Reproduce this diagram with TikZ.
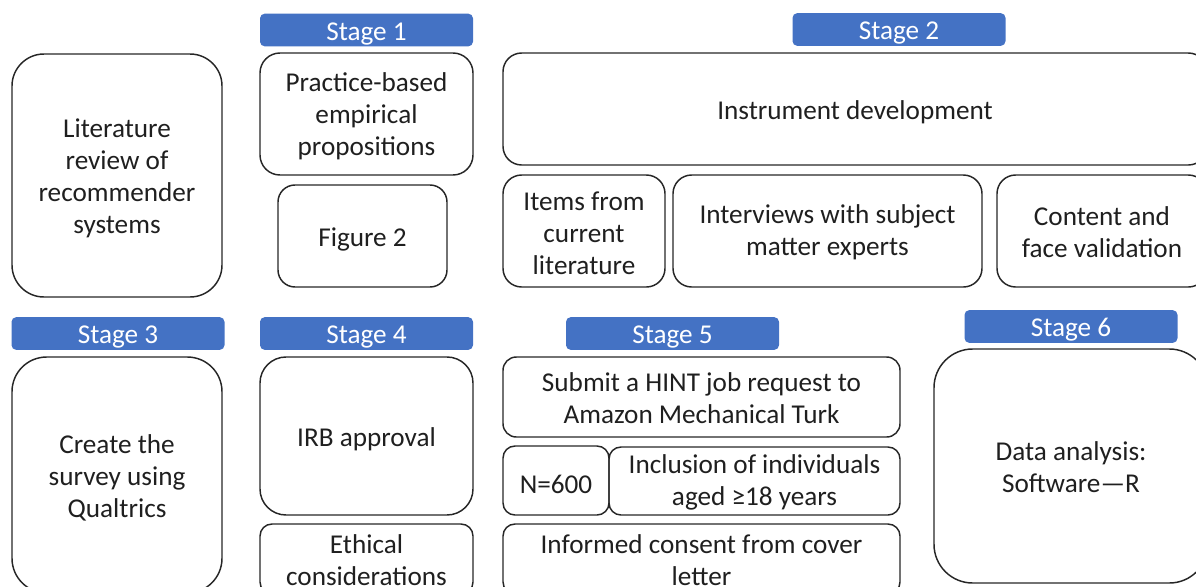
\documentclass[tikz,border=0pt]{standalone}
\usepackage{fontspec}
\setmainfont{Carlito}
\usepackage{xcolor}
\usepackage{tikz}
\definecolor{stageblue}{HTML}{4472C4}
\definecolor{boxline}{HTML}{262626}

\begin{document}
\begin{tikzpicture}[x=0.75pt, y=-0.75pt,
    every node/.style={font=\fontsize{20.4}{24}\selectfont, align=center, inner sep=0pt,
        text height=19pt},
    deux/.style={text height=40pt},
    trois/.style={text height=66pt},
    quatre/.style={text height=91pt},
    etape/.style={fill=stageblue, text=white, rounded corners=3.5pt,
        minimum width=159.75pt, minimum height=24.5pt},
    bloc/.style={draw=boxline, line width=1.1pt, text=black!88}]
    % Cadre de la figure
    \useasboundingbox (0,0) rectangle (1196,586);
    \clip (0,0) rectangle (1196,586);

    % Étiquettes des étapes
    \node[etape] (etape1) at (366.5,30) {Stage 1};
    \node[etape] (etape2) at (899,29.5) {Stage 2};
    \node[etape] (etape3) at (118,333.5) {Stage 3};
    \node[etape] (etape4) at (366.5,333.5) {Stage 4};
    \node[etape] (etape5) at (672.5,333.5) {Stage 5};
    \node[etape] (etape6) at (1071,326.5) {Stage 6};

    % Revue de littérature
    \node[bloc, quatre, rounded corners=24pt, minimum width=157.5pt, minimum height=182.25pt]
        (revue) at (117,175.5) {Literature\\review of\\recommender\\systems};

    % Étape 1
    \node[bloc, trois, rounded corners=15pt, minimum width=159.75pt, minimum height=91.5pt]
        (propositions) at (366.5,114) {Practice-based\\empirical\\propositions};
    \node[bloc, rounded corners=12.75pt, minimum width=126.75pt, minimum height=76.5pt]
        (figure) at (362.5,236) {Figure 2};

    % Étape 2
    \node[bloc, rounded corners=14pt, minimum width=528pt, minimum height=84pt]
        (instrument) at (855,109) {Instrument development};
    \node[bloc, trois, rounded corners=14pt, minimum width=121.5pt, minimum height=84pt]
        (items) at (584,231) {Items from\\current\\literature};
    \node[bloc, deux, rounded corners=14pt, minimum width=231.75pt, minimum height=84pt]
        (entretiens) at (827.5,231) {Interviews with subject\\matter experts};
    \node[bloc, deux, rounded corners=14pt, minimum width=157.5pt, minimum height=84pt]
        (validation) at (1102,231) {Content and\\face validation};

    % Étape 3
    \node[bloc, trois, rounded corners=26pt, minimum width=157.5pt, minimum height=177pt]
        (enquete) at (117,475) {Create the\\survey using\\Qualtrics};

    % Étape 4
    \node[bloc, rounded corners=19.5pt, minimum width=159.75pt, minimum height=118.5pt]
        (irb) at (366.5,436) {IRB approval};
    \node[bloc, deux, rounded corners=9pt, minimum width=159.75pt, minimum height=52.5pt]
        (ethique) at (366.5,559) {Ethical\\considerations};

    % Étape 5
    \node[bloc, deux, rounded corners=10pt, minimum width=297.75pt, minimum height=60pt]
        (mturk) at (701.5,397) {Submit a HINT job request to\\Amazon Mechanical Turk};
    \node[bloc, rounded corners=9pt, minimum width=79.5pt, minimum height=51.75pt]
        (effectif) at (556,480.5) {N=600};
    \node[bloc, deux, rounded corners=9pt, minimum width=218.25pt, minimum height=51pt]
        (inclusion) at (754.5,481) {Inclusion of individuals\\aged ≥18 years};
    \node[bloc, deux, rounded corners=9pt, minimum width=297.75pt, minimum height=52.5pt]
        (consentement) at (701.5,559) {Informed consent from cover\\letter};

    % Étape 6
    \node[bloc, deux, rounded corners=29pt, minimum width=205.5pt, minimum height=175.5pt]
        (analyse) at (1071,466) {Data analysis:\\Software—R};
\end{tikzpicture}
\end{document}
